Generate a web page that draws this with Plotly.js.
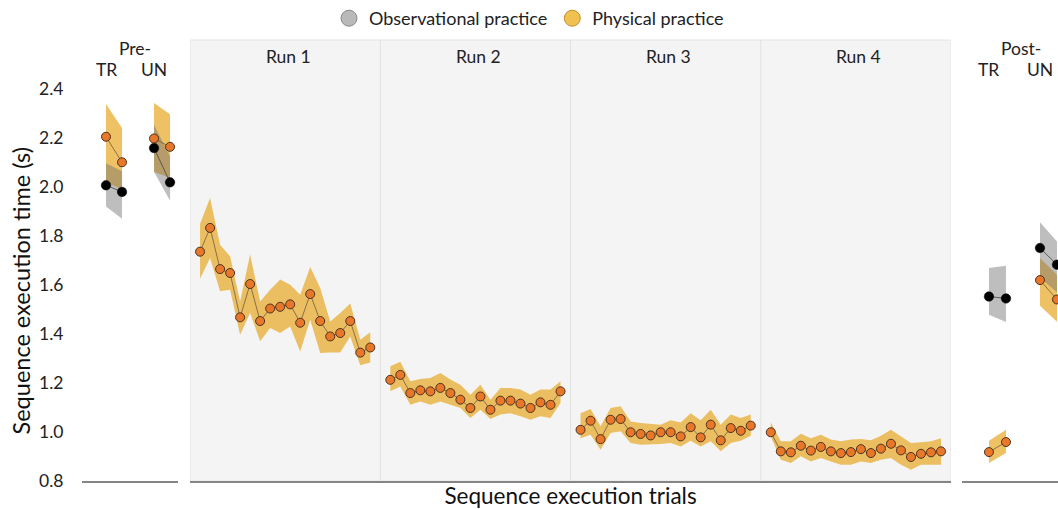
<!DOCTYPE html>
<html>
<head>
<meta charset="utf-8">
<script src="https://cdn.plot.ly/plotly-3.0.1.min.js"></script>
<style>
  html, body { margin: 0; padding: 0; background: #fff; }
  #chart { width: 1058px; height: 509px; }
</style>
</head>
<body>
<div id="chart"></div>
<script>
// labels
const runLabels = ["Run 1", "Run 2", "Run 3", "Run 4"];
const testLabels = ["TR", "UN"];

// physical practice, acquisition runs (18 trials each): mean and band edges
const run1Mean  = [1.736, 1.833, 1.665, 1.649, 1.468, 1.604, 1.453, 1.504, 1.511, 1.521, 1.446, 1.563, 1.453, 1.390, 1.404, 1.453, 1.324, 1.345];
const run1Upper = [1.850, 1.955, 1.764, 1.717, 1.533, 1.724, 1.533, 1.581, 1.622, 1.601, 1.560, 1.673, 1.588, 1.451, 1.486, 1.524, 1.377, 1.407];
const run1Lower = [1.626, 1.710, 1.574, 1.581, 1.397, 1.486, 1.370, 1.424, 1.404, 1.431, 1.329, 1.458, 1.322, 1.325, 1.325, 1.390, 1.272, 1.284];

const run2Mean  = [1.213, 1.233, 1.159, 1.170, 1.166, 1.180, 1.159, 1.132, 1.098, 1.145, 1.091, 1.128, 1.128, 1.116, 1.098, 1.121, 1.111, 1.166];
const run2Upper = [1.268, 1.287, 1.207, 1.216, 1.220, 1.241, 1.214, 1.193, 1.152, 1.193, 1.132, 1.180, 1.180, 1.173, 1.152, 1.173, 1.173, 1.207];
const run2Lower = [1.166, 1.186, 1.111, 1.125, 1.111, 1.125, 1.111, 1.098, 1.057, 1.091, 1.053, 1.071, 1.077, 1.064, 1.050, 1.064, 1.057, 1.118];

const run3Mean  = [1.009, 1.046, 0.971, 1.050, 1.053, 0.999, 0.992, 0.986, 0.999, 0.999, 0.982, 1.020, 0.978, 1.030, 0.966, 1.016, 1.005, 1.026];
const run3Upper = [1.077, 1.094, 1.023, 1.098, 1.105, 1.043, 1.037, 1.033, 1.030, 1.048, 1.039, 1.077, 1.048, 1.091, 1.030, 1.071, 1.057, 1.071];
const run3Lower = [0.975, 0.989, 0.928, 0.996, 1.003, 0.955, 0.948, 0.948, 0.951, 0.955, 0.941, 0.964, 0.941, 0.962, 0.921, 0.955, 0.964, 0.985];

const run4Mean  = [0.999, 0.921, 0.917, 0.944, 0.924, 0.939, 0.921, 0.914, 0.918, 0.930, 0.914, 0.932, 0.952, 0.925, 0.898, 0.911, 0.917, 0.921];
const run4Upper = [1.039, 0.962, 0.962, 0.993, 0.975, 0.989, 0.969, 0.962, 0.969, 0.971, 0.966, 0.985, 1.009, 0.982, 0.955, 0.958, 0.962, 0.975];
const run4Lower = [0.982, 0.887, 0.873, 0.901, 0.880, 0.894, 0.880, 0.866, 0.866, 0.880, 0.873, 0.887, 0.894, 0.866, 0.846, 0.866, 0.866, 0.866];

// pre-test (two trials per test)
const preObsTRMean   = [2.007, 1.980];
const preObsTRUpper  = [2.097, 2.064];
const preObsTRLower  = [1.920, 1.870];
const prePhysTRMean  = [2.205, 2.101];
const prePhysTRUpper = [2.339, 2.241];
const prePhysTRLower = [2.020, 1.990];
const preObsUNMean   = [2.159, 2.019];
const preObsUNUpper  = [2.254, 2.125];
const preObsUNLower  = [2.062, 1.944];
const prePhysUNMean  = [2.198, 2.164];
const prePhysUNUpper = [2.343, 2.297];
const prePhysUNLower = [2.062, 2.037];

// post-test
const postObsTRMean   = [1.553, 1.545];
const postObsTRUpper  = [1.669, 1.679];
const postObsTRLower  = [1.479, 1.449];
const postPhysTRMean  = [0.918, 0.959];
const postPhysTRUpper = [0.964, 1.009];
const postPhysTRLower = [0.873, 0.914];
const postObsUNMean   = [1.751, 1.683];
const postObsUNUpper  = [1.856, 1.778];
const postObsUNLower  = [1.630, 1.570];
const postPhysUNMean  = [1.620, 1.541];
const postPhysUNUpper = [1.710, 1.642];
const postPhysUNLower = [1.515, 1.450];

const yTicks = [0.8, 1.0, 1.2, 1.4, 1.6, 1.8, 2.0, 2.2, 2.4];

// styling
const FONT = "Lato, 'Open Sans', sans-serif";
const PHYS_BAND = "rgba(232,170,40,0.72)";
const OBS_BAND = "rgba(110,110,110,0.45)";
const PHYS_DOT = "#e8772a";
const PHYS_EDGE = "#4a3320";
const PHYS_LINE = "#6e5a40";
const OBS_LINE = "#444";

// slots on the pre/post axes and on the runs axis
const trPos = [1, 2];
const unPos = [4, 5];
const RUN_SLOTS = 19;
const runX = (r) => run1Mean.map((_, k) => r * RUN_SLOTS + k + 1);

function band(xs, upper, lower, color, xaxis) {
  return {
    x: xs.concat(xs.slice().reverse()),
    y: upper.concat(lower.slice().reverse()),
    xaxis: xaxis, yaxis: "y",
    mode: "lines", fill: "toself", fillcolor: color,
    line: { width: 0 }, hoverinfo: "skip", showlegend: false,
  };
}

function meanTrace(xs, ys, physical, xaxis) {
  return {
    x: xs, y: ys, xaxis: xaxis, yaxis: "y",
    mode: "lines+markers", type: "scatter", showlegend: false,
    line: { color: physical ? PHYS_LINE : OBS_LINE, width: 0.8 },
    marker: physical
      ? { size: 9, color: PHYS_DOT, line: { color: PHYS_EDGE, width: 1 } }
      : { size: 9.5, color: "#000", line: { color: "#000", width: 0.5 } },
  };
}

const runs = [
  [run1Mean, run1Upper, run1Lower],
  [run2Mean, run2Upper, run2Lower],
  [run3Mean, run3Upper, run3Lower],
  [run4Mean, run4Upper, run4Lower],
];

const traces = [];

// bands first
traces.push(band(trPos, prePhysTRUpper, prePhysTRLower, PHYS_BAND, "x"));
traces.push(band(unPos, prePhysUNUpper, prePhysUNLower, PHYS_BAND, "x"));
traces.push(band(trPos, preObsTRUpper, preObsTRLower, OBS_BAND, "x"));
traces.push(band(unPos, preObsUNUpper, preObsUNLower, OBS_BAND, "x"));
runs.forEach(([m, u, l], r) => traces.push(band(runX(r), u, l, PHYS_BAND, "x2")));
traces.push(band(trPos, postPhysTRUpper, postPhysTRLower, PHYS_BAND, "x3"));
traces.push(band(unPos, postPhysUNUpper, postPhysUNLower, PHYS_BAND, "x3"));
traces.push(band(trPos, postObsTRUpper, postObsTRLower, OBS_BAND, "x3"));
traces.push(band(unPos, postObsUNUpper, postObsUNLower, OBS_BAND, "x3"));

// means
traces.push(meanTrace(trPos, preObsTRMean, false, "x"));
traces.push(meanTrace(unPos, preObsUNMean, false, "x"));
traces.push(meanTrace(trPos, prePhysTRMean, true, "x"));
traces.push(meanTrace(unPos, prePhysUNMean, true, "x"));
runs.forEach(([m], r) => traces.push(meanTrace(runX(r), m, true, "x2")));
traces.push(meanTrace(trPos, postObsTRMean, false, "x3"));
traces.push(meanTrace(unPos, postObsUNMean, false, "x3"));
traces.push(meanTrace(trPos, postPhysTRMean, true, "x3"));
traces.push(meanTrace(unPos, postPhysUNMean, true, "x3"));

// legend entries
traces.push({
  x: [null], y: [null], mode: "markers", name: "Observational practice",
  marker: { size: 16, color: "#b9b9b9", line: { color: "#8a8a8a", width: 1 } },
});
traces.push({
  x: [null], y: [null], mode: "markers", name: "Physical practice",
  marker: { size: 16, color: "#f0c050", line: { color: "#c0902a", width: 1 } },
});

const baseAxis = {
  showgrid: false, zeroline: false, showticklabels: false, ticks: "",
  showline: true, linecolor: "#858585", linewidth: 1.5, fixedrange: true,
};

const annotations = [];
runLabels.forEach((t, r) => annotations.push({
  text: t, xref: "x2", yref: "y", x: r * RUN_SLOTS + (RUN_SLOTS + 1) / 2 - 0.2, y: 2.532,
  showarrow: false, font: { size: 17.5, color: "#222" },
}));
[["x", "Pre-", 2.8], ["x3", "Post-", 2.9]].forEach(([ax, t, cx]) => {
  annotations.push({ text: t, xref: ax, yref: "y", x: cx, y: 2.567, showarrow: false, font: { size: 17.5, color: "#222" } });
  testLabels.forEach((lab, i) => annotations.push({
    text: lab, xref: ax, yref: "y", x: i === 0 ? trPos[0] : unPos[0], y: 2.479,
    showarrow: false, font: { size: 17.5, color: "#222" },
  }));
});
// y title sits a bit below the plot middle in the original
annotations.push({
  text: "Sequence execution time (s)", xref: "paper", yref: "paper",
  x: -0.0615, y: 0.432, xanchor: "center", yanchor: "middle",
  textangle: -90, showarrow: false,
  font: { size: 23.5, color: "#111" },
});

const shapes = [
  { type: "rect", xref: "x2", yref: "paper", x0: 0, x1: 4 * RUN_SLOTS, y0: 0, y1: 1,
    fillcolor: "#f4f4f4", line: { color: "#e4e4e4", width: 1 }, layer: "below" },
];
[1, 2, 3].forEach((r) => shapes.push({
  type: "line", xref: "x2", yref: "paper", x0: r * RUN_SLOTS, x1: r * RUN_SLOTS, y0: 0, y1: 1,
  line: { color: "#e2e2e2", width: 1 }, layer: "below",
}));

const layout = {
  width: 1058, height: 509,
  margin: { l: 82, r: 0, t: 40, b: 28 },
  paper_bgcolor: "#fff", plot_bgcolor: "rgba(0,0,0,0)",
  font: { family: FONT, size: 17, color: "#222" },
  showlegend: true,
  legend: {
    orientation: "h", xref: "container", yref: "container",
    x: 0.5, xanchor: "center", y: 1, yanchor: "top",
    font: { size: 18, color: "#222" }, itemwidth: 30, bgcolor: "rgba(0,0,0,0)",
  },
  xaxis: Object.assign({}, baseAxis, { domain: [0, 0.0984], range: [-0.5, 5.5] }),
  xaxis2: Object.assign({}, baseAxis, {
    domain: [0.1107, 0.8904], range: [0, 4 * RUN_SLOTS],
    title: { text: "Sequence execution trials", standoff: 7, font: { size: 22.5, color: "#111" } },
  }),
  xaxis3: Object.assign({}, baseAxis, { domain: [0.9016, 1], range: [-0.588, 5.06] }),
  yaxis: {
    range: [0.8, 2.6], tickvals: yTicks, tickformat: ".1f",
    showgrid: false, zeroline: false, showline: false,
    ticks: "outside", ticklen: 14, tickcolor: "rgba(0,0,0,0)",
    tickfont: { size: 17.5, color: "#222" }, fixedrange: true,
  },
  annotations: annotations,
  shapes: shapes,
};

Plotly.newPlot("chart", traces, layout, { displayModeBar: false, staticPlot: true });
</script>
</body>
</html>
